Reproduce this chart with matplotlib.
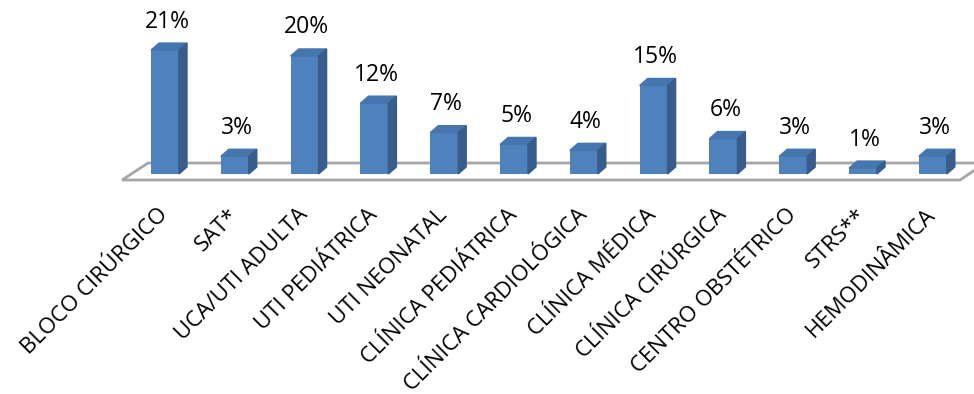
import matplotlib.pyplot as plt
from matplotlib.patches import Polygon

setores = ["BLOCO CIRÚRGICO", "SAT*", "UCA/UTI ADULTA", "UTI PEDIÁTRICA",
           "UTI NEONATAL", "CLÍNICA PEDIÁTRICA", "CLÍNICA CARDIOLÓGICA",
           "CLÍNICA MÉDICA", "CLÍNICA CIRÚRGICA", "CENTRO OBSTÉTRICO",
           "STRS**", "HEMODINÂMICA"]
percentuais = [21, 3, 20, 12, 7, 5, 4, 15, 6, 3, 1, 3]

plt.rcParams['font.family'] = ['Open Sans', 'DejaVu Sans']

fig = plt.figure(figsize=(9.74, 3.94), dpi=100)
ax = fig.add_axes([0, 0, 1, 1])
ax.set_xlim(-2.364, 11.59)
ax.set_ylim(-37.29, 29.49)
ax.axis('off')

larg = 0.40   # largura da face frontal
dx, dy = 0.115, 1.19  # profundidade do efeito 3D

frente = '#4F81BD'
lado = '#385D8A'
topo = '#4676AE'

# piso (contorno cinza)
piso = Polygon([(-0.616, -1.02), (-0.244, 1.86), (11.75, 1.86), (11.39, -1.02)],
               closed=True, fill=False, edgecolor='#A6A6A6', lw=2, zorder=1)
ax.add_patch(piso)

x = list(range(len(setores)))
ax.bar(x, percentuais, width=larg, color=frente, zorder=3)
for i, v in zip(x, percentuais):
    l, r = i - larg / 2, i + larg / 2
    ax.add_patch(Polygon([(l, v), (l + dx, v + dy), (r + dx, v + dy), (r, v)],
                         closed=True, color=topo, zorder=3))
    ax.add_patch(Polygon([(r, 0), (r + dx, dy), (r + dx, v + dy), (r, v)],
                         closed=True, color=lado, zorder=3))
    ax.text(i + 0.03, v + 2.8, f"{v}%", ha='center', va='bottom', fontsize=16.5)
    ax.text(i + 0.0, -6.4, setores[i], rotation=45, rotation_mode='anchor',
            ha='right', va='center', fontsize=16)

fig.savefig('out.png', dpi=100)
